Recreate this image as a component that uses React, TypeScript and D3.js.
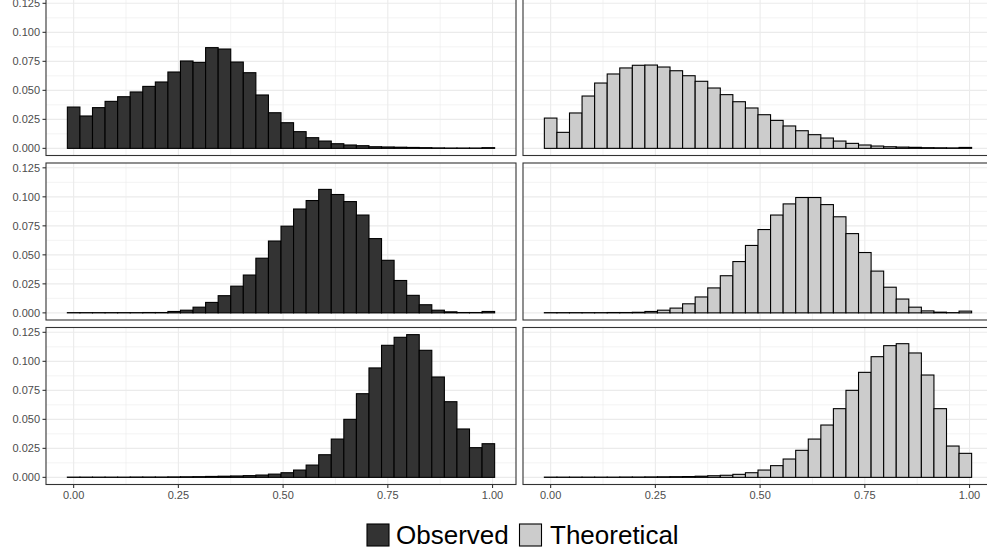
import React from "react";
import * as d3 from "d3";

// Histogram bins: width 0.03, the first one centred on 0
const BIN_START = -0.015;
const BIN_WIDTH = 0.03;

// Proportion of draws falling into each bin, one row per facet
const OBSERVED_ROW1 = [0.0356, 0.0279, 0.0351, 0.0405, 0.0445, 0.0486, 0.0534, 0.0572, 0.0658, 0.0753, 0.0741, 0.0868, 0.0856, 0.0744, 0.0652, 0.046, 0.0307, 0.0221, 0.0144, 0.0092, 0.0063, 0.004, 0.0029, 0.0023, 0.0014, 0.0012, 0.001, 0.0008, 0.0006, 0.0004, 0.0003, 0.0003, 0.0003, 0.0006];
const THEORETICAL_ROW1 = [0.0261, 0.0138, 0.0305, 0.0451, 0.0563, 0.0641, 0.0693, 0.0716, 0.0718, 0.0701, 0.0669, 0.0626, 0.0578, 0.052, 0.0463, 0.0402, 0.0348, 0.029, 0.0241, 0.0193, 0.0152, 0.0118, 0.0089, 0.0063, 0.0043, 0.0029, 0.002, 0.0014, 0.0011, 0.0009, 0.0006, 0.0005, 0.0004, 0.0008];
const OBSERVED_ROW2 = [0.0002, 0.0002, 0.0002, 0.0002, 0.0002, 0.0002, 0.0003, 0.0003, 0.0012, 0.0023, 0.0049, 0.009, 0.0148, 0.023, 0.0326, 0.0471, 0.0619, 0.0747, 0.0895, 0.0968, 0.1064, 0.102, 0.0959, 0.0843, 0.064, 0.0453, 0.0279, 0.0151, 0.007, 0.0023, 0.0009, 0.0003, 0.0003, 0.0012];
const THEORETICAL_ROW2 = [0.0002, 0.0002, 0.0002, 0.0002, 0.0002, 0.0003, 0.0003, 0.0005, 0.0012, 0.0023, 0.0041, 0.0078, 0.0137, 0.0215, 0.032, 0.0442, 0.0581, 0.0718, 0.0843, 0.0939, 0.0994, 0.0994, 0.0933, 0.0828, 0.0683, 0.052, 0.036, 0.0221, 0.0119, 0.0049, 0.0017, 0.0006, 0.0002, 0.0015];
const OBSERVED_ROW3 = [0.0002, 0.0002, 0.0002, 0.0002, 0.0002, 0.0003, 0.0003, 0.0003, 0.0004, 0.0005, 0.0006, 0.0008, 0.001, 0.0012, 0.0015, 0.002, 0.0028, 0.004, 0.0063, 0.0106, 0.0195, 0.033, 0.05, 0.0721, 0.0943, 0.1138, 0.1207, 0.123, 0.1095, 0.0865, 0.0652, 0.0417, 0.0256, 0.029];
const THEORETICAL_ROW3 = [0.0002, 0.0002, 0.0002, 0.0002, 0.0002, 0.0002, 0.0003, 0.0003, 0.0004, 0.0005, 0.0006, 0.0007, 0.001, 0.0014, 0.0018, 0.0026, 0.004, 0.0063, 0.0101, 0.0158, 0.0233, 0.033, 0.0451, 0.0592, 0.075, 0.0905, 0.104, 0.1135, 0.1152, 0.1072, 0.0882, 0.0592, 0.027, 0.0207];

const X_TICKS = [0, 0.25, 0.5, 0.75, 1];
const X_MINOR = [0.125, 0.375, 0.625, 0.875];
const Y_TICKS = [0, 0.025, 0.05, 0.075, 0.1, 0.125];
const Y_MINOR = [0.0125, 0.0375, 0.0625, 0.0875, 0.1125];

const SERIES = ["Observed", "Theoretical"];
const FILLS = ["#333333", "#CCCCCC"];

const ROWS = [
  [OBSERVED_ROW1, THEORETICAL_ROW1],
  [OBSERVED_ROW2, THEORETICAL_ROW2],
  [OBSERVED_ROW3, THEORETICAL_ROW3],
];

const W = 987;
const H = 554;
const PANEL_W = 470;
const PANEL_H = 157;
const PANEL_LEFT = [46, 523];
const PANEL_TOP = [-1.5, 163, 327.5];
const FONT = "'Liberation Sans', Arial, Helvetica, sans-serif";

export default function App() {
  const nBins = OBSERVED_ROW1.length;
  const lo = BIN_START;
  const hi = BIN_START + nBins * BIN_WIDTH;
  const padX = 0.05 * (hi - lo);
  const x = d3.scaleLinear().domain([lo - padX, hi + padX]).range([0, PANEL_W]);

  const maxV = d3.max(ROWS.flat(2)) as number;
  const y = d3.scaleLinear().domain([-0.05 * maxV, 1.05 * maxV]).range([PANEL_H, 0]);

  const fmtX = d3.format(".2f");
  const fmtY = d3.format(".3f");

  const panels: React.ReactNode[] = [];
  ROWS.forEach((row, r) => {
    row.forEach((vals, c) => {
      const px = PANEL_LEFT[c];
      const py = PANEL_TOP[r];
      const clipId = `clip-${r}-${c}`;
      panels.push(
        <g key={`p${r}${c}`} transform={`translate(${px},${py})`}>
          <defs>
            <clipPath id={clipId}>
              <rect x={0} y={0} width={PANEL_W} height={PANEL_H} />
            </clipPath>
          </defs>
          <rect x={0} y={0} width={PANEL_W} height={PANEL_H} fill="#FFFFFF" />
          <g clipPath={`url(#${clipId})`}>
            {X_MINOR.map((t) => (
              <line key={`xm${t}`} x1={x(t)} x2={x(t)} y1={0} y2={PANEL_H} stroke="#EBEBEB" strokeWidth={0.6} />
            ))}
            {Y_MINOR.map((t) => (
              <line key={`ym${t}`} x1={0} x2={PANEL_W} y1={y(t)} y2={y(t)} stroke="#EBEBEB" strokeWidth={0.6} />
            ))}
            {X_TICKS.map((t) => (
              <line key={`xg${t}`} x1={x(t)} x2={x(t)} y1={0} y2={PANEL_H} stroke="#EBEBEB" strokeWidth={1.1} />
            ))}
            {Y_TICKS.map((t) => (
              <line key={`yg${t}`} x1={0} x2={PANEL_W} y1={y(t)} y2={y(t)} stroke="#EBEBEB" strokeWidth={1.1} />
            ))}
            {vals.map((v, i) => {
              const x0 = x(lo + i * BIN_WIDTH);
              const x1 = x(lo + (i + 1) * BIN_WIDTH);
              return (
                <rect
                  key={`b${i}`}
                  x={x0}
                  y={y(v)}
                  width={x1 - x0}
                  height={y(0) - y(v)}
                  fill={FILLS[c]}
                  stroke="#000000"
                  strokeWidth={1.1}
                />
              );
            })}
          </g>
          <rect x={0} y={0} width={PANEL_W} height={PANEL_H} fill="none" stroke="#333333" strokeWidth={1.1} />
          {c === 0 &&
            Y_TICKS.map((t) => (
              <g key={`yt${t}`}>
                <line x1={-3.5} x2={0} y1={y(t)} y2={y(t)} stroke="#333333" strokeWidth={1.1} />
                <text x={-6} y={y(t)} dy="0.35em" textAnchor="end" fontSize={11} fill="#4D4D4D" fontFamily={FONT}>
                  {fmtY(t)}
                </text>
              </g>
            ))}
          {r === ROWS.length - 1 &&
            X_TICKS.map((t) => (
              <g key={`xt${t}`}>
                <line x1={x(t)} x2={x(t)} y1={PANEL_H} y2={PANEL_H + 3.5} stroke="#333333" strokeWidth={1.1} />
                <text x={x(t)} y={PANEL_H + 14} textAnchor="middle" fontSize={11} fill="#4D4D4D" fontFamily={FONT}>
                  {fmtX(t)}
                </text>
              </g>
            ))}
        </g>
      );
    });
  });

  // Legend along the bottom
  const legendKeyX = [367, 519.5];
  const legendTextX = [396, 550];
  const legendY = 524;
  const keySize = 22;

  return (
    <svg
      width={W}
      height={H}
      viewBox={`0 0 ${W} ${H}`}
      style={{ position: "absolute", left: 0, top: 0, display: "block", background: "#FFFFFF" }}
    >
      <rect x={0} y={0} width={W} height={H} fill="#FFFFFF" />
      {panels}
      {SERIES.map((s, i) => (
        <g key={s}>
          <rect
            x={legendKeyX[i]}
            y={legendY}
            width={keySize}
            height={keySize}
            fill={FILLS[i]}
            stroke="#000000"
            strokeWidth={1.1}
          />
          <text x={legendTextX[i]} y={legendY + 20} fontSize={26} fill="#000000" fontFamily={FONT}>
            {s}
          </text>
        </g>
      ))}
    </svg>
  );
}
